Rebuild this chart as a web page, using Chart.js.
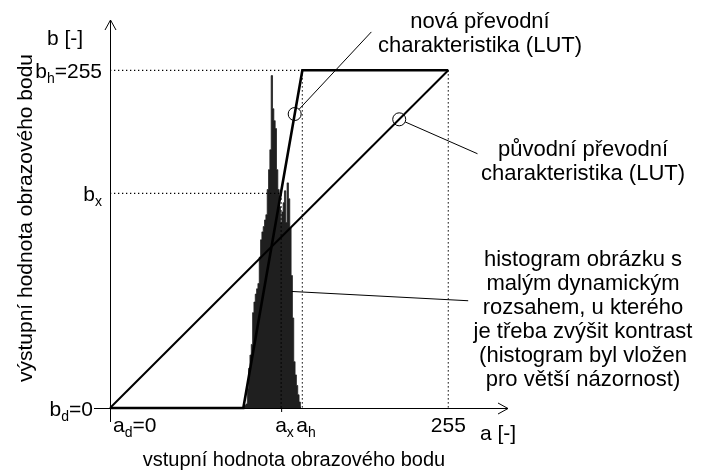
<!DOCTYPE html>
<html>
<head>
<meta charset="utf-8">
<script src="https://cdn.jsdelivr.net/npm/chart.js@4.4.1/dist/chart.umd.min.js"></script>
<style>
  html, body { margin: 0; padding: 0; background: #fff; }
  #wrap { width: 702px; height: 472px; }
</style>
</head>
<body>
<div id="wrap"><canvas id="lutChart"></canvas></div>
<script>
'use strict';

// Histogram of the low-contrast image (gray level -> count, same units as b)
var histLevels = [101, 102, 103, 104, 105, 106, 107, 108, 109, 110,
                  111, 112, 113, 114, 115, 116, 117, 118, 119, 120,
                  121, 122, 123, 124, 125, 126, 127, 128, 129, 130,
                  131, 132, 133, 134, 135, 136, 137, 138, 139, 140,
                  141, 142, 143, 144];
var histCounts = [1, 2, 3, 15, 30, 40, 48, 72, 80, 86,
                  90, 94, 114, 127, 133, 137, 142, 146, 165, 180,
                  195, 251, 226, 217, 211, 180, 165, 152, 140, 148,
                  155, 164, 140, 170, 158, 136, 100, 68, 35, 25,
                  17, 10, 4.5, 1];

// Transfer characteristics
var origLutA = [0, 255];
var origLutB = [0, 255];
var newLutA = [0, 100.5, 145, 255];
var newLutB = [0, 0, 255, 255];

// Marked levels
var aX = 129;
var aH = 145;
var aMax = 255;
var bX = 162;
var bH = 255;

// Axis labels: [base, subscript, suffix]
var xTickValues = [0, aX, aH, aMax];
var xTickLabels = [['a', 'd', '=0'], ['a', 'x', ''], ['a', 'h', ''], ['255', '', '']];
var yTickValues = [bH, bX, 0];
var yTickLabels = [['b', 'h', '=255'], ['b', 'x', ''], ['b', 'd', '=0']];

var xTitle = 'vstupní hodnota obrazového bodu';
var yTitle = 'výstupní hodnota obrazového bodu';
var xUnit = 'a [-]';
var yUnit = 'b [-]';

var newLutNote = ['nová převodní', 'charakteristika (LUT)'];
var origLutNote = ['původní převodní', 'charakteristika (LUT)'];
var histNote = ['histogram obrázku s', 'malým dynamickým', 'rozsahem, u kterého',
                'je třeba zvýšit kontrast', '(histogram byl vložen', 'pro větší názornost)'];

var FONT = "'Liberation Sans', Arial, sans-serif";

function zipPoints(xs, ys) {
  return xs.map(function (v, i) { return { x: v, y: ys[i] }; });
}

function dotted(points) {
  return {
    type: 'line',
    data: points,
    borderColor: '#000',
    borderWidth: 1.2,
    borderDash: [1.3, 2.7],
    pointRadius: 0,
    clip: false,
    order: 2
  };
}

// ====================================
// Annotations, axes and labels
// ====================================
var lutDecor = {
  id: 'lutDecor',
  afterDatasetsDraw: function (chart) {
    var ctx = chart.ctx;
    var xs = chart.scales.x;
    var ys = chart.scales.y;
    function px(a) { return xs.getPixelForValue(a); }
    function py(b) { return ys.getPixelForValue(b); }

    var x0 = px(0);
    var y0 = py(0);
    var area = chart.chartArea;

    ctx.save();
    ctx.strokeStyle = '#000';
    ctx.fillStyle = '#000';
    ctx.lineWidth = 1;

    // axes with open arrow heads
    ctx.beginPath();
    ctx.moveTo(x0 + 0.5, y0 + 14);
    ctx.lineTo(x0 + 0.5, area.top);
    ctx.moveTo(x0 - 5, area.top + 10);
    ctx.lineTo(x0 + 0.5, area.top);
    ctx.lineTo(x0 + 6, area.top + 10);
    ctx.moveTo(x0 - 16, y0 + 0.5);
    ctx.lineTo(area.right, y0 + 0.5);
    ctx.moveTo(area.right - 10, y0 - 5);
    ctx.lineTo(area.right, y0 + 0.5);
    ctx.lineTo(area.right - 10, y0 + 6);
    // small tick under a_x
    ctx.moveTo(px(aX) + 0.5, y0);
    ctx.lineTo(px(aX) + 0.5, y0 + 4);
    ctx.stroke();

    // labels with subscripts
    function labelWidth(parts) {
      ctx.font = '21px ' + FONT;
      var w = ctx.measureText(parts[0]).width + ctx.measureText(parts[2]).width;
      ctx.font = '14px ' + FONT;
      return w + ctx.measureText(parts[1]).width;
    }
    function drawLabel(parts, left, base) {
      ctx.textAlign = 'left';
      ctx.textBaseline = 'alphabetic';
      ctx.font = '21px ' + FONT;
      ctx.fillText(parts[0], left, base);
      left += ctx.measureText(parts[0]).width;
      ctx.font = '14px ' + FONT;
      ctx.fillText(parts[1], left, base + 5);
      left += ctx.measureText(parts[1]).width;
      ctx.font = '21px ' + FONT;
      ctx.fillText(parts[2], left, base);
    }

    xTickValues.forEach(function (v, i) {
      var parts = xTickLabels[i];
      var left;
      if (i === 0) left = px(v) + 3;
      else if (i === xTickValues.length - 1) left = px(v) - labelWidth(parts) / 2;
      else left = px(v) - 6;
      drawLabel(parts, left, y0 + 24);
    });

    yTickValues.forEach(function (v, i) {
      var parts = yTickLabels[i];
      var right = v === 0 ? x0 - 17 : x0 - 8;
      drawLabel(parts, right - labelWidth(parts), py(v) + 7.5);
    });

    // units and titles
    ctx.font = '21px ' + FONT;
    ctx.textAlign = 'left';
    ctx.fillText(yUnit, 47, 45);
    ctx.fillText(xUnit, 480, y0 + 32);
    ctx.font = '20px ' + FONT;
    ctx.textAlign = 'center';
    ctx.fillText(xTitle, 294, 466);
    ctx.save();
    ctx.translate(32, 218);
    ctx.rotate(-Math.PI / 2);
    ctx.font = '21px ' + FONT;
    ctx.fillText(yTitle, 0, 0);
    ctx.restore();

    // callout texts
    ctx.font = '22px ' + FONT;
    ctx.textAlign = 'center';
    function note(lines, cx, firstBase) {
      lines.forEach(function (t, i) { ctx.fillText(t, cx, firstBase + i * 24); });
    }
    note(newLutNote, 480, 28);
    note(origLutNote, 583, 156);
    note(histNote, 583, 266);

    // circles on the curves and leader lines
    var r = 6.5;
    function callout(mark, end) {
      var cx = px(mark[0]), cy = py(mark[1]);
      var ex = px(end[0]), ey = py(end[1]);
      var d = Math.hypot(ex - cx, ey - cy);
      ctx.beginPath();
      ctx.arc(cx, cy, r, 0, Math.PI * 2);
      ctx.moveTo(cx + (ex - cx) * r / d, cy + (ey - cy) * r / d);
      ctx.lineTo(ex, ey);
      ctx.stroke();
    }
    callout([139.2, 222], [197, 284]);
    callout([218, 218], [277, 192]);
    ctx.beginPath();
    ctx.moveTo(px(137), py(88));
    ctx.lineTo(px(270), py(81));
    ctx.stroke();

    ctx.restore();
  }
};

new Chart(document.getElementById('lutChart').getContext('2d'), {
  type: 'scatter',
  data: {
    datasets: [
      {
        // histogram as a filled step outline, one step per gray level
        type: 'line',
        data: zipPoints(histLevels, histCounts),
        stepped: 'middle',
        fill: 'origin',
        backgroundColor: '#1f1f1f',
        borderColor: '#1f1f1f',
        borderWidth: 0.8,
        pointRadius: 0,
        order: 3
      },
      dotted([{ x: 0, y: bH }, { x: aH, y: bH }]),
      dotted([{ x: 0, y: bX }, { x: aX, y: bX }, { x: aX, y: 0 }]),
      dotted([{ x: aH, y: bH }, { x: aH, y: 0 }]),
      dotted([{ x: aMax, y: bH }, { x: aMax, y: 0 }]),
      {
        type: 'line',
        data: zipPoints(origLutA, origLutB),
        borderColor: '#000',
        borderWidth: 2,
        pointRadius: 0,
        clip: false,
        order: 1
      },
      {
        type: 'line',
        data: zipPoints(newLutA, newLutB),
        borderColor: '#000',
        borderWidth: 2.6,
        pointRadius: 0,
        clip: false,
        order: 0
      }
    ]
  },
  options: {
    responsive: true,
    maintainAspectRatio: false,
    animation: false,
    layout: { padding: { left: 110, right: 194, top: 20, bottom: 64 } },
    plugins: { legend: { display: false }, tooltip: { enabled: false } },
    scales: {
      x: { type: 'linear', min: 0, max: 300, offset: false, display: false },
      y: { type: 'linear', min: 0, max: 293, display: false }
    }
  },
  plugins: [lutDecor]
});
</script>
</body>
</html>
